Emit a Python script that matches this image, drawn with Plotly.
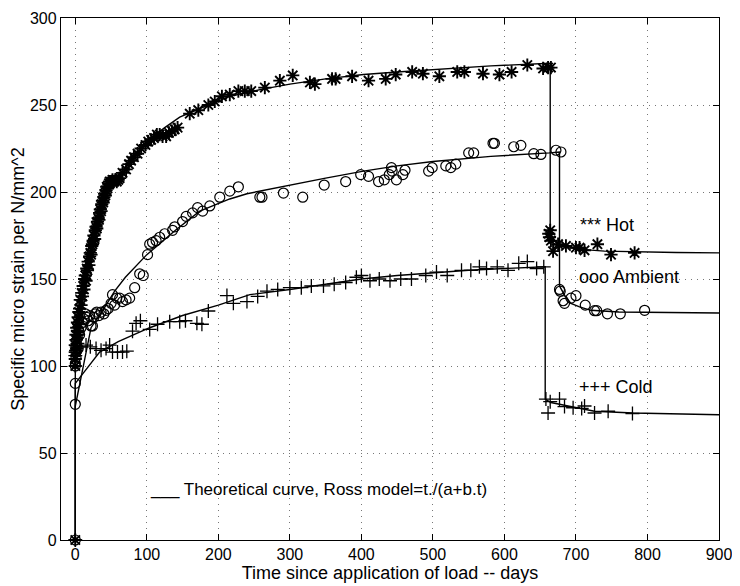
import plotly.graph_objects as go

# ---------------- data ----------------
hot_t = [0, 0, 0, 0, 0, 1, 1, 2, 2, 3, 3, 4, 4, 5, 5, 6, 7, 8, 9, 10, 11, 12, 13, 14, 15, 16, 17, 18, 19, 20,
         21, 22, 23, 24, 25, 26, 27, 28, 29, 30, 31, 32, 33, 34, 35, 36, 37, 38, 39, 40, 41, 42, 43, 44, 45,
         47, 48, 50, 52, 54, 56, 58, 60, 62, 66, 71, 75, 78, 82, 87, 92, 98, 102, 106, 110, 114, 118, 122,
         127, 131, 135, 139, 143, 160, 172, 186, 195, 205, 216, 228, 237, 246, 265, 286, 304, 328, 335, 359,
         364, 387, 410, 434, 448, 471, 486, 509, 534, 544, 570, 593, 610, 632, 654, 661, 665,
         662, 663, 664, 665, 668, 675, 686, 700, 705, 712, 730, 749, 782]
hot_v = [0, 100, 104, 108, 112, 115, 118, 110, 122, 120, 125, 118, 128, 124, 131, 133, 138, 135, 142, 140,
         146, 144, 150, 152, 149, 156, 155, 160, 158, 163, 165, 164, 169, 170, 172, 175, 173, 178, 180, 179,
         183, 185, 184, 188, 190, 189, 193, 195, 194, 197, 199, 198, 201, 203, 202, 205, 206, 206, 207, 206,
         207, 206, 207, 208, 211, 213, 216, 218, 220, 222, 225, 227, 229, 230, 231, 233, 233, 232, 232, 234,
         235, 236, 237, 245, 247, 250, 252, 255, 256, 258, 258, 258, 260, 264, 267, 263, 262, 265, 265, 266.5,
         264, 265, 267.5, 269, 268, 266.5, 269, 269, 268, 267.5, 269, 273, 271, 271.5, 271.5,
         176, 174, 178, 172, 166, 170, 169, 168, 168, 166.5, 170, 164, 165]

amb_t = [0, 0, 0, 0, 0, 1, 1, 2, 3, 4, 5, 6, 8, 10, 12, 14, 16, 18, 20, 22, 24, 26, 28, 30, 33, 36, 40, 43,
         46, 50, 52, 55, 58, 62, 66, 71, 76, 83, 90, 95, 101, 104, 108, 113, 118, 125, 136, 139, 150, 155,
         164, 171, 178, 188, 202, 216, 228, 258, 261, 291, 318, 348, 378, 399, 410, 424, 432, 439, 442, 443,
         449, 458, 461, 494, 499, 518, 525, 532, 550, 557, 584, 586, 613, 623, 641, 651, 672, 679,
         677, 678, 682, 684, 693, 700, 713, 726, 729, 744, 762, 796]
amb_v = [0, 78, 90, 100, 101.5, 105, 108, 112, 116, 110, 120, 118, 122, 125, 127, 130, 128, 126, 129, 123,
         123, 128, 130, 131, 129, 131, 130, 132, 133, 136, 141, 135, 139, 139, 137, 138, 139, 145, 153, 152,
         164, 170, 171, 172, 174, 176, 178, 180, 183, 186, 188, 191, 189, 192, 197, 200.5, 203, 197, 197,
         199.4, 197, 204, 206, 210, 209, 206, 207, 210, 214, 212, 207, 210, 212.5, 212, 214, 215, 214, 216,
         222.5, 222.5, 228, 228, 226, 226.8, 222, 221.6, 224, 223,
         144, 143, 137.5, 136, 139, 140.4, 135, 131.8, 131.8, 130, 130, 132]

cold_t = [0, 0, 1, 2, 3, 8, 15, 21, 29, 36, 43, 48, 52, 59, 66, 72, 80, 85, 91, 104, 115, 132, 146, 154, 170,
          177, 186, 212, 221, 240, 255, 268, 283, 300, 316, 330, 347, 362, 378, 393, 400, 412, 425, 440, 455,
          470, 490, 505, 520, 540, 553, 565, 575, 590, 605, 620, 632, 645, 655,
          658, 661, 664, 677, 684, 696, 708, 712, 726, 745, 779]
cold_v = [0, 106, 109, 111, 113, 111, 112, 111, 110, 109, 110, 112, 108, 108, 108, 108.5, 120, 124.5, 126,
          121, 124, 125.5, 125.5, 126, 124.5, 124, 131.6, 140.5, 136, 137, 140, 143, 144, 145, 145, 146, 146,
          147, 148, 151, 152, 149, 150, 149, 150, 150, 152, 154, 152, 155, 155, 157, 156, 157, 155, 159, 160,
          156, 157,
          81, 73, 79.5, 81, 76.7, 76, 75.6, 77, 73, 74, 72.7]

# theoretical curves
hot_curve_t = [0, 0, 2, 5, 10, 15, 24, 35, 48, 62, 80, 100, 125, 146, 180, 216, 260, 300, 350, 403, 450,
               500, 581, 664, 664, 670, 679, 690, 707, 740, 782, 840, 900]
hot_curve_v = [0, 105, 118, 132, 148, 160, 178, 192, 203, 210, 220, 229, 237, 243, 249, 255, 259, 262, 265,
               267.5, 269, 270.5, 272.5, 274, 176, 172, 169.5, 168, 167, 166, 165.5, 165.2, 165]

amb_curve_t = [0, 0, 22, 40, 55, 70, 100, 140, 174, 216, 240, 300, 350, 403, 450, 500, 581, 663, 677, 677,
               685, 693, 705, 721, 760, 900]
amb_curve_v = [0, 77, 122, 133, 143, 151, 164, 178, 189, 196, 199, 204, 208, 212, 215, 217.5, 220.5, 222.5,
               223, 146, 140, 136, 134, 132, 131, 130.5]

cold_curve_t = [0, 0, 34, 60, 104, 150, 200, 244, 300, 350, 400, 450, 500, 550, 600, 657, 657, 665, 689,
                726, 780, 900]
cold_curve_v = [0, 90, 108, 114, 122, 129, 135, 141, 144, 147, 150, 152, 153.5, 155, 156, 157, 81, 79, 77,
                74, 73, 72]

x_ticks = [0, 100, 200, 300, 400, 500, 600, 700, 800, 900]
y_ticks = [0, 50, 100, 150, 200, 250, 300]

FONT = "Liberation Sans, Arial, sans-serif"

fig = go.Figure()

for ct, cv in [(hot_curve_t, hot_curve_v), (amb_curve_t, amb_curve_v), (cold_curve_t, cold_curve_v)]:
    fig.add_trace(go.Scatter(x=ct, y=cv, mode="lines", line=dict(color="black", width=1.4),
                             showlegend=False, hoverinfo="skip"))

fig.add_trace(go.Scatter(x=hot_t, y=hot_v, mode="markers", name="Hot", showlegend=False, cliponaxis=False,
                         marker=dict(symbol="asterisk-open", size=11, color="black",
                                     line=dict(color="black", width=1.9))))
fig.add_trace(go.Scatter(x=amb_t, y=amb_v, mode="markers", name="Ambient", showlegend=False, cliponaxis=False,
                         marker=dict(symbol="circle-open", size=10, color="black",
                                     line=dict(color="black", width=1.2))))
fig.add_trace(go.Scatter(x=cold_t, y=cold_v, mode="markers", name="Cold", showlegend=False, cliponaxis=False,
                         marker=dict(symbol="cross-thin-open", size=10, color="black",
                                     line=dict(color="black", width=1.3))))

annots = [
    ("*** Hot", 703, 181, 18),
    ("ooo Ambient", 701, 151, 18),
    ("+++ Cold", 701, 88, 18),
    ("___ Theoretical curve, Ross model=t./(a+b.t)", 101, 29, 17),
]
for txt, ax_, ay_, fs in annots:
    fig.add_annotation(x=ax_, y=ay_, xref="x", yref="y", text=txt, showarrow=False,
                       xanchor="left", yanchor="middle",
                       font=dict(family=FONT, size=fs, color="black"))

axis_common = dict(
    showline=True, linecolor="black", linewidth=1.3, mirror="ticks",
    ticks="inside", ticklen=6, tickcolor="black", tickwidth=1.2,
    showgrid=True, gridcolor="#777777", griddash="1px,5px", gridwidth=1,
    zeroline=False, automargin=False, ticklabeloverflow="allow",
    tickfont=dict(family=FONT, size=16, color="black"),
)

fig.update_xaxes(range=[-20, 900], tickvals=x_ticks,
                 title=dict(text="Time since application of load -- days",
                            font=dict(family=FONT, size=18, color="black"), standoff=3),
                 **axis_common)
fig.update_yaxes(range=[0, 300], tickvals=y_ticks,
                 title=dict(text="Specific micro strain per N/mm^2",
                            font=dict(family=FONT, size=18, color="black"), standoff=5),
                 **axis_common)

# the page body adds an 8px offset, so the figure is sized to end at the window edge
fig.update_layout(width=732, height=578, margin=dict(l=53, r=21, t=10, b=46),
                  paper_bgcolor="white", plot_bgcolor="white", showlegend=False,
                  font=dict(family=FONT, size=16, color="black"))

fig.write_html("out.html")
